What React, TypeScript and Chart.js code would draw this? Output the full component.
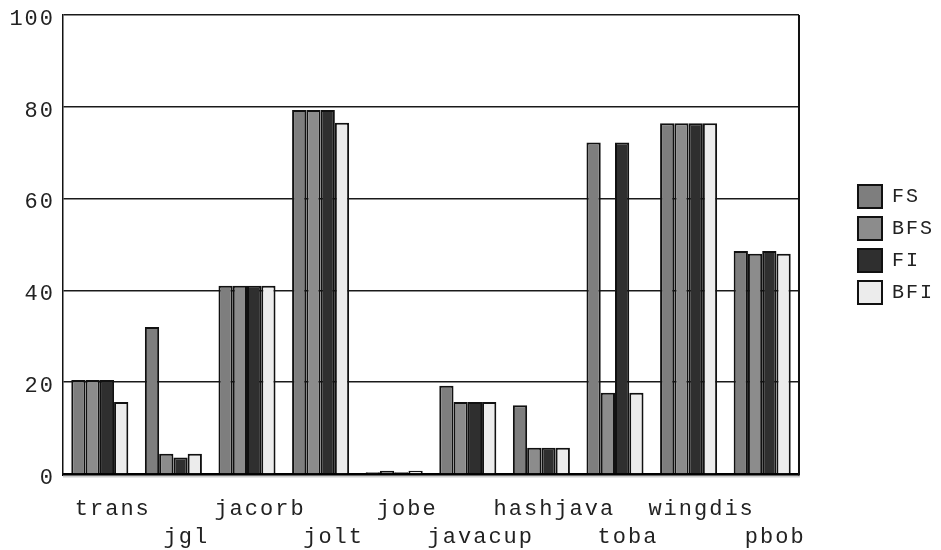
import { useEffect, useRef } from 'react';
import { Chart, registerables } from 'chart.js';

Chart.register(...registerables);

const categories = ['trans', 'jgl', 'jacorb', 'jolt', 'jobe', 'javacup', 'hashjava', 'toba', 'wingdis', 'pbob'];
const seriesNames = ['FS', 'BFS', 'FI', 'BFI'];
const fsValues = [20.5, 32, 41, 79.3, 0.4, 19.2, 15, 72.2, 76.4, 48.6];
const bfsValues = [20.5, 4.4, 41, 79.3, 0.7, 15.7, 5.7, 17.7, 76.4, 48.0];
const fiValues = [20.5, 3.6, 41, 79.3, 0.4, 15.7, 5.7, 72.2, 76.4, 48.6];
const bfiValues = [15.7, 4.4, 41, 76.5, 0.7, 15.7, 5.7, 17.7, 76.4, 48.0];
const yTickValues = [0, 20, 40, 60, 80, 100];

const seriesColors = ['#7e7e7e', '#8c8c8c', '#2f2f2f', '#ececec'];
const MONO = '"Liberation Mono", "DejaVu Sans Mono", monospace';

const setSpacing = (chart: any) => {
  try {
    chart.ctx.letterSpacing = '2px';
  } catch (e) {}
};

const framePlugin = {
  id: 'framePlugin',
  beforeInit: setSpacing,
  beforeUpdate: setSpacing,
  beforeLayout: setSpacing,
  beforeDraw: setSpacing,
  afterDraw(chart: any) {
    const { ctx, chartArea } = chart;
    ctx.save();
    ctx.strokeStyle = '#cfcfcf';
    ctx.lineWidth = 2;
    ctx.beginPath();
    ctx.moveTo(chartArea.left, chartArea.bottom + 2.5);
    ctx.lineTo(chartArea.right + 1, chartArea.bottom + 2.5);
    ctx.stroke();
    ctx.strokeStyle = '#111';
    ctx.lineWidth = 2;
    ctx.beginPath();
    ctx.moveTo(chartArea.right, chartArea.top);
    ctx.lineTo(chartArea.right, chartArea.bottom + 1.5);
    ctx.stroke();
    ctx.restore();
  },
};

export default function App() {
  const canvasRef = useRef<HTMLCanvasElement | null>(null);

  useEffect(() => {
    if (!canvasRef.current) return;
    const values = [fsValues, bfsValues, fiValues, bfiValues];
    const labels = categories.map((c, i) => (i % 2 === 0 ? [c, ''] : ['', c]));
    const chart = new Chart(canvasRef.current, {
      type: 'bar',
      data: {
        labels,
        datasets: seriesNames.map((name, i) => ({
          label: name,
          data: values[i],
          backgroundColor: seriesColors[i],
          borderColor: '#111',
          borderWidth: 2,
          categoryPercentage: 0.775,
          barPercentage: 1,
        })),
      },
      options: {
        animation: false,
        responsive: false,
        maintainAspectRatio: false,
        layout: { padding: { top: 15, right: -3, bottom: 0, left: 0 } },
        plugins: {
          tooltip: { enabled: false },
          legend: {
            position: 'right',
            fullSize: false,
            align: 'center',
            labels: {
              boxWidth: 24,
              boxHeight: 23,
              padding: 9,
              color: '#222',
              font: { family: MONO, size: 20 },
            },
          },
        },
        scales: {
          x: {
            grid: { display: false, drawTicks: false },
            border: { display: true, color: '#000', width: 3 },
            ticks: {
              color: '#222',
              font: { family: MONO, size: 22, lineHeight: 1.27 },
              padding: 21,
              labelOffset: 13,
              maxRotation: 0,
              autoSkip: false,
            },
            afterFit: (s: any) => {
              s.height = 76;
              s.paddingLeft = 0;
              s.paddingRight = 0;
            },
          },
          y: {
            min: 0,
            max: 100,
            afterBuildTicks: (s: any) => {
              s.ticks = yTickValues.map((v) => ({ value: v }));
            },
            grid: { color: '#1a1a1a', lineWidth: 1.5, drawTicks: false },
            border: { display: true, color: '#111', width: 1.5 },
            ticks: {
              color: '#222',
              font: { family: MONO, size: 22 },
              padding: 8,
              labelOffset: 4,
            },
            afterFit: (s: any) => {
              s.width = 63;
              s.paddingTop = 0;
              s.paddingBottom = 0;
            },
          },
          gap: {
            type: 'linear',
            position: 'right',
            display: true,
            grid: { display: false, drawTicks: false },
            border: { display: false },
            ticks: { display: false },
            afterFit: (s: any) => {
              s.width = 50;
              s.paddingTop = 0;
              s.paddingBottom = 0;
            },
          },
        },
      } as any,
      plugins: [framePlugin],
    });
    return () => chart.destroy();
  }, []);

  return (
    <div style={{ position: 'fixed', left: 0, top: 0, width: 941, height: 550, background: '#fff' }}>
      <canvas ref={canvasRef} width={941} height={550} style={{ display: 'block' }} />
    </div>
  );
}
